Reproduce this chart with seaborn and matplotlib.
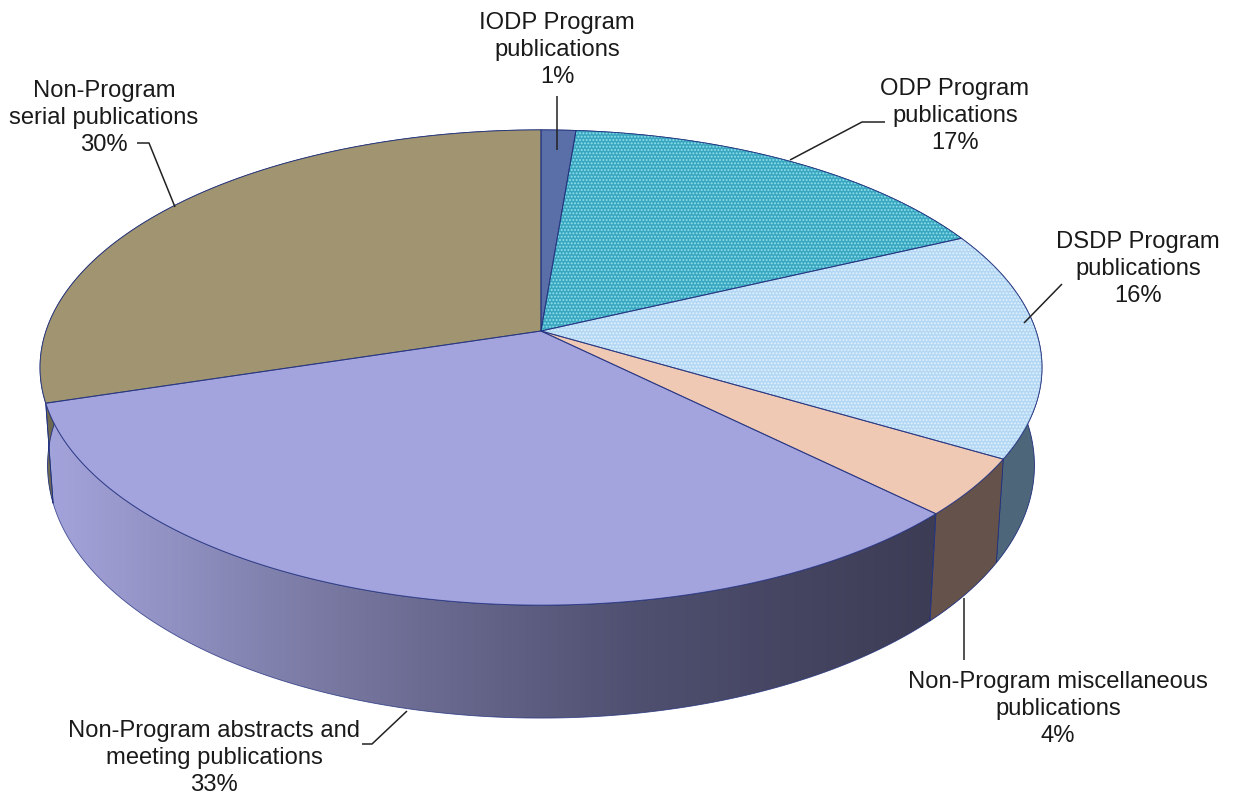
#!/usr/bin/env python3
"""Perspective pie of publication shares, drawn on a pixel-sized canvas."""

import numpy as np
import matplotlib
matplotlib.use("Agg")
import matplotlib.pyplot as plt
from matplotlib.patches import Polygon
import seaborn as sns

# Data (clockwise from 12 o'clock)
categories = [
    "IODP Program\npublications",
    "ODP Program\npublications",
    "DSDP Program\npublications",
    "Non-Program miscellaneous\npublications",
    "Non-Program abstracts and\nmeeting publications",
    "Non-Program\nserial publications",
]
shares = [1.3, 16.7, 15.5, 3.9, 32.8, 29.8]

# Styles
top_colors = ["#5a6ea8", "#3ba6c0", "#b4d8f4", "#f0c9b5", "#a3a3de", "#a09570"]
side_colors = ["#47577f", "#2f7d90", "#4d6679", "#65524a", None, "#6f6a4f"]
hatch_colors = [None, "#8fe3ee", "#e2f2ff", None, None, None]
EDGE = "#1f2f7d"
label_xy = [(557, 50), (955, 116), (1138, 269), (1058, 709), (214, 758), (104, 118)]
leaders = [
    [(557, 96), (557, 150)],
    [(885, 122), (862, 122), (790, 160)],
    [(1062, 284), (1024, 323)],
    [(964, 598), (964, 660)],
    [(362, 744), (372, 744), (407, 711)],
    [(137, 143), (149, 143), (175, 207)],
]

# Projection of the disc: apex position, radii, perspective strength, depth
CX, CY = 541, 331
RX, RY = 495, 232
PERSP = 0.1537
DEPTH = 95.6
BASE_SHRINK = 0.015


def project(theta, level=0.0):
    u, v = np.sin(theta), np.cos(theta)
    w = 1 + PERSP * v
    x = CX + RX * u / w * (1 - BASE_SHRINK * level)
    y = CY - RY * v / w + level * DEPTH / w
    return np.column_stack([x, y])


sns.set_theme(style="white")
plt.rcParams["font.family"] = ["Liberation Sans", "DejaVu Sans"]
plt.rcParams["hatch.linewidth"] = 0.9

fig = plt.figure(figsize=(12.33, 7.96), dpi=100)
ax = fig.add_axes([0, 0, 1, 1])

ends = np.cumsum(shares) / np.sum(shares) * 2 * np.pi
starts = np.r_[0, ends[:-1]]
side_cmap = sns.blend_palette(["#a4a4dc", "#76769f", "#4f4f70", "#3c3c55"], as_cmap=True)

# Side walls first, back to front, then the top covers whatever is behind it
for i in [0, 1, 5, 2, 3, 4]:
    arc = np.linspace(starts[i], ends[i], 150)
    wall = np.vstack([project(arc), project(arc[::-1], 1.0)])
    if side_colors[i] is None:
        patch = Polygon(wall, closed=True, facecolor="none", edgecolor=EDGE, linewidth=0.6, alpha=0.8, zorder=2)
        ax.add_patch(patch)
        gradient = np.linspace(0, 1, 256).reshape(1, -1)
        img = ax.imshow(gradient, cmap=side_cmap, aspect="auto", zorder=1,
                        extent=[wall[:, 0].min(), wall[:, 0].max(), wall[:, 1].max(), wall[:, 1].min()])
        img.set_clip_path(patch)
    else:
        ax.add_patch(Polygon(wall, closed=True, facecolor=side_colors[i], edgecolor=EDGE, linewidth=0.6, zorder=2))

for i in range(len(shares)):
    arc = np.linspace(starts[i], ends[i], 150)
    wedge = np.vstack([[CX, CY], project(arc)])
    ax.add_patch(Polygon(wedge, closed=True, facecolor=top_colors[i], edgecolor="none", zorder=3))
    if hatch_colors[i]:
        ax.add_patch(Polygon(wedge, closed=True, facecolor="none", edgecolor=hatch_colors[i],
                             hatch=".....", linewidth=0, zorder=3.5))
    ax.add_patch(Polygon(wedge, closed=True, facecolor="none", edgecolor=EDGE, linewidth=0.7, alpha=0.8, zorder=4))

# Leader lines
for pts in leaders:
    xs, ys = zip(*pts)
    ax.plot(xs, ys, color="#222222", linewidth=1.1, zorder=5, solid_capstyle="butt")

# Labels
for name, share, (tx, ty) in zip(categories, shares, label_xy):
    ax.text(tx, ty, f"{name}\n{share:.0f}%", ha="center", va="center", fontsize=17.1,
            linespacing=1.3, color="#1a1a1a", zorder=6)

ax.set_xlim(0, 1233)
ax.set_ylim(796, 0)
ax.axis("off")
fig.savefig("out.png", dpi=100, facecolor="white")
plt.close(fig)
